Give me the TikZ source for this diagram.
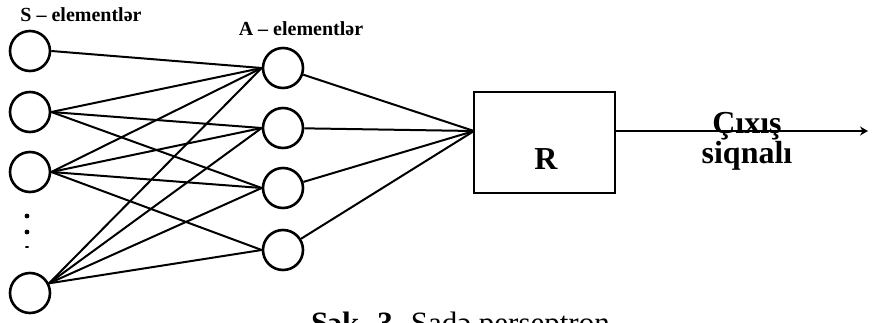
\documentclass[tikz,border=0pt]{standalone}
\usepackage{fontspec}
\setmainfont{Liberation Serif}
\usetikzlibrary{arrows.meta, positioning}

\begin{document}
\begin{tikzpicture}[>=Stealth, x=0.5pt, y=-0.5pt, line width=1pt,
    neuron/.style={draw, circle, line width=1.3pt, minimum size=20pt, inner sep=0pt},
    elabel/.style={font=\fontsize{10}{12}\selectfont\bfseries, inner sep=0pt},
    biglabel/.style={font=\fontsize{16}{13.5}\selectfont\bfseries, inner sep=0pt}]
    \clip (0,0) rectangle (873,322);

    % S - elementlər
    \node[neuron] (s1) at (30,51) {};
    \node[neuron] (s2) at (30,112) {};
    \node[neuron] (s3) at (30,172) {};
    \node[neuron] (s4) at (30,293) {};
    \node[elabel] (slabel) at (81,15) {S – elementlər};
    \fill (27,216) circle (1.2pt) (27,232) circle (1.2pt);
    \fill (27,247) ellipse (1pt and 0.5pt);

    % A - elementlər
    \node[neuron] (a1) at (283,68) {};
    \node[neuron] (a2) at (283,128) {};
    \node[neuron] (a3) at (283,188) {};
    \node[neuron] (a4) at (283,250) {};
    \node[elabel] (alabel) at (301,29) {A – elementlər};

    % R - element
    \node[draw, minimum width=70.5pt, minimum height=50.5pt, inner sep=0pt] (r) at (544.5,142.5) {};
    \node[biglabel] (rtext) at (546,159) {R};
    \coordinate (rin) at (474,131);
    \coordinate (out) at (868,131);

    % S -> A
    \draw (s1.east) -- (a1.west);
    \foreach \a in {a1,a2,a3} \draw (s2.east) -- (\a.west);
    \foreach \a in {a1,a2,a3,a4} \draw (s3.east) -- (\a.west);
    \foreach \a in {a1,a2,a3,a4} \draw (s4.27) -- (\a.west);

    % A -> R
    \foreach \a in {a1,a2,a3,a4} \draw (\a) -- (rin);

    % çıxış
    \draw[-{Stealth[length=4pt, width=4.5pt]}] (r.east |- rin) -- (out);
    \node[biglabel, align=center, anchor=north] (outlabel) at (747,111) {Çıxış\\siqnalı};

    % caption
    \node[anchor=base west, inner sep=0pt, font=\fontsize{15.5}{18}\selectfont] (caption) at (310,333)
        {\textbf{Şək. 3.} Sadə perseptron};
\end{tikzpicture}
\end{document}
